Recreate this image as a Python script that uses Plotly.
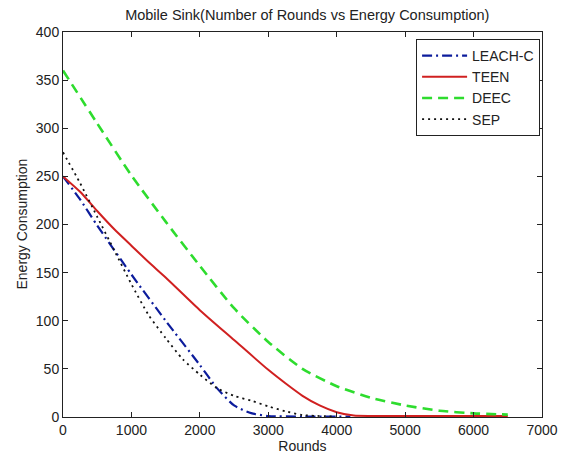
import plotly.graph_objects as go

# ---- data ----
leach_rounds = [0, 250, 500, 1000, 1500, 2000, 2250, 2500, 2750, 3000, 3500, 4200]
leach_energy = [250, 226, 199, 148, 100, 54, 30, 12, 4, 1, 0.5, 0.5]

teen_rounds = [0, 250, 500, 750, 1000, 1250, 1500, 2000, 2500, 3000, 3250, 3500, 3750, 4000, 4250, 4500, 5000, 5500, 6000, 6500]
teen_energy = [250, 234, 214, 195, 178, 161, 145, 111, 80, 49, 35, 22, 12, 5, 1.5, 1, 1, 1, 1, 1]

deec_rounds = [0, 500, 1000, 1500, 2000, 2500, 3000, 3500, 4000, 4500, 5000, 5500, 6000, 6500]
deec_energy = [360, 305, 251, 203, 157, 113, 78, 50, 32, 20, 12, 6.5, 3.8, 2.5]

sep_rounds = [0, 250, 500, 750, 1000, 1250, 1500, 1750, 2000, 2250, 2500, 2750, 3000, 3250, 3500, 4000]
sep_energy = [275, 243, 208, 173, 138, 106, 82, 60, 44, 30, 22, 17, 11, 6, 2, 0.5]

x_ticks = [0, 1000, 2000, 3000, 4000, 5000, 6000, 7000]
y_ticks = [0, 50, 100, 150, 200, 250, 300, 350, 400]

FONT = "Liberation Sans, Arial, sans-serif"
INK = "#222222"

# page body has an 8px default margin; the figure is sized to fit the 578x459 window
W, H = 570, 451
ML, MR, MT, MB = 55, 36, 24, 42
PW = W - ML - MR

fig = go.Figure()
fig.add_trace(go.Scatter(x=leach_rounds, y=leach_energy, name="LEACH-C", mode="lines",
                         line=dict(color="#0c1c9c", width=2.2, dash="10px,4px,2px,4px", shape="spline", smoothing=0.6)))
fig.add_trace(go.Scatter(x=teen_rounds, y=teen_energy, name="TEEN", mode="lines",
                         line=dict(color="#d02020", width=2, shape="spline", smoothing=0.6)))
fig.add_trace(go.Scatter(x=deec_rounds, y=deec_energy, name="DEEC", mode="lines",
                         line=dict(color="#2edc2e", width=2.6, dash="10px,6px", shape="spline", smoothing=0.6)))
fig.add_trace(go.Scatter(x=sep_rounds, y=sep_energy, name="SEP", mode="lines",
                         line=dict(color="#111111", width=1.8, dash="2px,4px", shape="spline", smoothing=0.6)))

axis_common = dict(showgrid=False, zeroline=False, showline=True, linecolor=INK, linewidth=1,
                   mirror="ticks", ticks="inside", ticklen=5, tickcolor=INK, automargin=False,
                   tickfont=dict(family=FONT, size=14, color=INK))

fig.update_layout(
    width=W, height=H,
    paper_bgcolor="white", plot_bgcolor="white",
    margin=dict(l=ML, r=MR, t=MT, b=MB, autoexpand=False),
    title=dict(text="Mobile Sink(Number of Rounds vs Energy Consumption)", x=0.51, xanchor="center",
               y=1 - 7 / H, yanchor="middle", xref="paper", yref="container",
               font=dict(family=FONT, size=14.5, color=INK), automargin=False),
    xaxis=dict(range=[0, 7000], tickvals=x_ticks, ticktext=[str(v) for v in x_ticks],
               title=dict(text="Rounds", font=dict(family=FONT, size=14, color=INK), standoff=2),
               **axis_common),
    yaxis=dict(range=[0, 400], tickvals=y_ticks, ticktext=[str(v) for v in y_ticks],
               **axis_common),
    annotations=[dict(text="Energy Consumption", textangle=-90, xref="paper", yref="paper",
                      x=(13 - ML) / PW, y=0.5, xanchor="center", yanchor="middle", showarrow=False,
                      font=dict(family=FONT, size=14, color=INK))],
    legend=dict(x=0.996, y=0.982, xanchor="right", yanchor="top",
                bgcolor="white", bordercolor=INK, borderwidth=1,
                font=dict(family=FONT, size=14, color=INK),
                tracegroupgap=0, itemwidth=45),
    showlegend=True,
)

fig.write_html("out.html")
